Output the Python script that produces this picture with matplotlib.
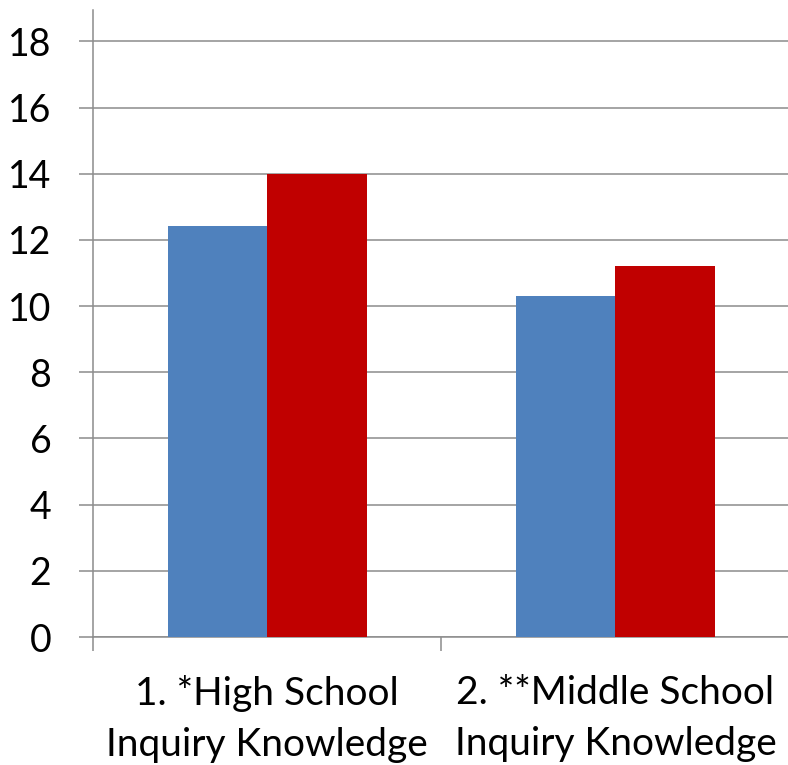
import numpy as np
import matplotlib
matplotlib.use('Agg')
import matplotlib.pyplot as plt

# scores per category, two groups of bars
categories = ['1. *High School\nInquiry Knowledge', '2. **Middle School\nInquiry Knowledge']
series_blue = [12.43, 10.30]
series_red = [14.0, 11.22]
yticks = [0, 2, 4, 6, 8, 10, 12, 14, 16, 18]

plt.rcParams['font.family'] = ['Lato', 'DejaVu Sans']

fig = plt.figure(figsize=(7.88, 7.65), dpi=100)
ax = fig.add_axes([93/788, 1-637/765, 1-93/788 + 0.002, (637-10)/765])

x = np.arange(len(categories))
w = 0.286
ax.bar(x - w/2, series_blue, width=w, color='#4F81BD', zorder=3)
ax.bar(x + w/2, series_red, width=w, color='#C00000', zorder=3)

ax.set_xlim(-0.5, 1.5)
ax.set_ylim(0, 18.95)
ax.set_yticks(yticks)
ax.yaxis.grid(True, color='#8C8C8C', linewidth=1.1, zorder=0)
ax.set_axisbelow(True)

ax.set_xticks(x)
ax.set_xticklabels(categories, fontsize=28, linespacing=1.55)
ax.set_xticks([-0.5, 0.5, 1.5], minor=True)
ax.tick_params(axis='x', which='major', length=0, pad=27)
ax.tick_params(axis='x', which='minor', length=10, width=1.1, color='#8C8C8C', direction='out')
ax.tick_params(axis='y', length=10, width=1.1, color='#8C8C8C', labelsize=27, pad=20)

for side in ['top', 'right']:
    ax.spines[side].set_visible(False)
for side in ['left', 'bottom']:
    ax.spines[side].set_color('#8C8C8C')
    ax.spines[side].set_linewidth(1.1)

fig.savefig('out.png', dpi=100)
